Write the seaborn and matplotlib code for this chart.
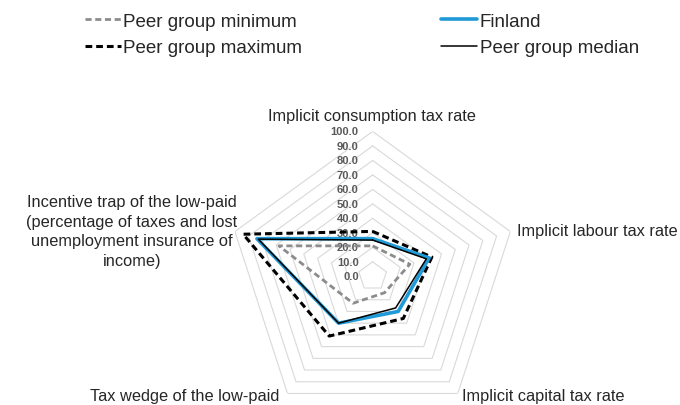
import numpy as np
import pandas as pd
import matplotlib
matplotlib.use("Agg")
import matplotlib.pyplot as plt
import matplotlib.transforms as mtransforms
import seaborn as sns

# Achsen des Netzdiagramms (im Uhrzeigersinn, oben beginnend)
AXIS_LABELS = [
    "Implicit consumption tax rate",
    "Implicit labour tax rate",
    "Implicit capital tax rate",
    "Tax wedge of the low-paid",
    "Incentive trap of the low-paid\n(percentage of taxes and lost\nunemployment insurance of\nincome)",
]

# Werte pro Reihe
PEER_MIN = [21, 27, 14, 23, 68]
PEER_MAX = [31, 43, 36, 51, 94]
FINLAND = [26, 41, 30, 40, 84]
PEER_MEDIAN = [25, 39, 27, 40, 83]

RADIAL_TICKS = [0, 10, 20, 30, 40, 50, 60, 70, 80, 90, 100]
RADIAL_LABELS = ["0.0", "10.0", "20.0", "30.0", "40.0", "50.0",
                 "60.0", "70.0", "80.0", "90.0", "100.0"]

SERIES_NAMES = ["Peer group minimum", "Peer group maximum", "Finland", "Peer group median"]

sns.set_style("white")
plt.rcParams["font.family"] = ["Liberation Sans", "DejaVu Sans"]

n_axes = len(AXIS_LABELS)
angles = [2 * np.pi * i / n_axes for i in range(n_axes)] + [2 * np.pi]

rows = []
for name, vals in zip(SERIES_NAMES, [PEER_MIN, PEER_MAX, FINLAND, PEER_MEDIAN]):
    for a, v in zip(angles, vals + vals[:1]):
        rows.append({"series": name, "angle": a, "value": v})
df = pd.DataFrame(rows)

styles = {
    "Peer group minimum": dict(color="#8c8c8c", linewidth=2.0, linestyle=(0, (2.2, 1.3))),
    "Peer group maximum": dict(color="#000000", linewidth=2.2, linestyle=(0, (2.2, 1.3))),
    "Finland": dict(color="#1f9ad6", linewidth=2.6, linestyle="-"),
    "Peer group median": dict(color="#000000", linewidth=1.1, linestyle="-"),
}

fig = plt.figure(figsize=(6.8, 4.06), dpi=100)
ax = fig.add_axes([0.335, -0.040, 0.426, 0.714], projection="polar")
ax.set_theta_offset(np.pi / 2)
ax.set_theta_direction(-1)

# Fünfeckiges Gitter
for t in RADIAL_TICKS[1:]:
    ax.plot(angles, [t] * len(angles), color="#d9d9d9", linewidth=0.8, zorder=1)

for name in SERIES_NAMES:
    sns.lineplot(data=df[df["series"] == name], x="angle", y="value", ax=ax,
                 sort=False, estimator=None, label=name, zorder=3, **styles[name])

handles, labels = ax.get_legend_handles_labels()
if ax.get_legend() is not None:
    ax.get_legend().remove()

ax.set_xlim(0, 2 * np.pi)
ax.set_ylim(0, 100)
ax.set_axis_off()

# Radiale Beschriftung links der oberen Achse
trans = mtransforms.offset_copy(ax.transData, fig=fig, x=-14, y=0, units="dots")
for t, lab in zip(RADIAL_TICKS, RADIAL_LABELS):
    ax.text(0, t, lab, transform=trans, ha="right", va="center",
            fontsize=8, fontweight="bold", color="#595959", zorder=2)

txt_color = "#262626"
fs = 11.8
fig.text(0.547, 0.714, AXIS_LABELS[0], ha="center", va="center", fontsize=fs, color=txt_color)
fig.text(0.760, 0.431, AXIS_LABELS[1], ha="left", va="center", fontsize=fs, color=txt_color)
fig.text(0.799, 0.024, AXIS_LABELS[2], ha="center", va="center", fontsize=fs, color=txt_color)
fig.text(0.272, 0.024, AXIS_LABELS[3], ha="center", va="center", fontsize=fs, color=txt_color)
fig.text(0.194, 0.429, AXIS_LABELS[4], ha="center", va="center", fontsize=fs, color=txt_color,
         linespacing=1.38)

fig.legend(handles, labels,
           loc="upper left", bbox_to_anchor=(0.10, 1.008), ncol=2, frameon=False,
           fontsize=13.5, handlelength=1.9, handletextpad=0.15, columnspacing=7.4,
           labelspacing=0.5, labelcolor=txt_color)

fig.savefig("out.png", dpi=100)
